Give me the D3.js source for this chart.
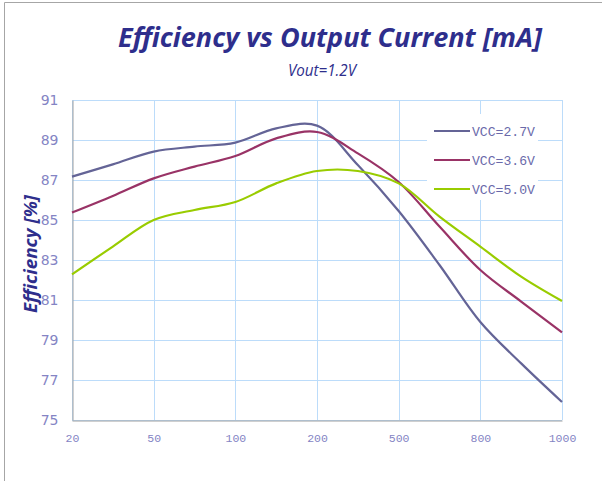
<!DOCTYPE html>
<html>
<head>
<meta charset="utf-8">
<script src="https://cdn.jsdelivr.net/npm/d3@7"></script>
<style>
  body { margin: 0; background: #fff; }
  svg { display: block; }
</style>
</head>
<body>
<svg width="602" height="481"></svg>
<script>
// category labels on the x axis (evenly spaced, not log)
var currents = ["20", "50", "100", "200", "500", "800", "1000"];
// positions where values were read: whole numbers are the labelled categories,
// halves are readings taken midway between them
var readAt = [0, 0.5, 1, 1.5, 2, 2.5, 3, 3.5, 4, 4.5, 5, 5.5, 6];
var vcc27 = [87.17, 87.78, 88.42, 88.67, 88.87, 89.58, 89.72, 87.75, 85.45, 82.75, 79.9, 77.83, 75.9];
var vcc36 = [85.37, 86.2, 87.08, 87.67, 88.2, 89.08, 89.4, 88.33, 86.9, 84.67, 82.5, 80.92, 79.38];
var vcc50 = [82.28, 83.67, 85.0, 85.5, 85.9, 86.83, 87.45, 87.45, 86.83, 85.17, 83.67, 82.17, 80.95];
var seriesNames = ["VCC=2.7V", "VCC=3.6V", "VCC=5.0V"];
var yTicks = [75, 77, 79, 81, 83, 85, 87, 89, 91];

var colors = ["#646496", "#993366", "#99cc00"];
var svg = d3.select("svg");

var plotL = 72, plotR = 562, plotT = 100, plotB = 420;

var x = d3.scaleLinear().domain([0, currents.length - 1]).range([plotL, plotR]);
var y = d3.scaleLinear().domain([75, 91]).range([plotB, plotT]);

// outer frame (only left and top edges show)
svg.append("path")
  .attr("d", "M4.5,481 V2.5 H602")
  .attr("fill", "none")
  .attr("stroke", "#a6a6a6");

// grid
var grid = svg.append("g");
grid.selectAll("line.h")
  .data(yTicks)
  .enter().append("line")
  .attr("x1", plotL).attr("x2", plotR)
  .attr("y1", function(d) { return Math.round(y(d)) + 0.5; })
  .attr("y2", function(d) { return Math.round(y(d)) + 0.5; })
  .attr("stroke", "#bcdcfa");
grid.selectAll("line.v")
  .data(d3.range(currents.length))
  .enter().append("line")
  .attr("y1", plotT).attr("y2", plotB)
  .attr("x1", function(d) { return Math.round(x(d)) + 0.5; })
  .attr("x2", function(d) { return Math.round(x(d)) + 0.5; })
  .attr("stroke", "#bcdcfa");

// y axis
var yAxis = svg.append("g")
  .attr("transform", "translate(" + (plotL + 0.5) + ",0)")
  .call(d3.axisLeft(y).tickValues(yTicks).tickSize(0).tickPadding(14));
yAxis.select(".domain").attr("stroke", "#a0a0a0");
yAxis.selectAll("text")
  .attr("fill", "#8484c4")
  .style("font-family", "'DejaVu Sans'")
  .style("font-size", "14px");

// x axis
var xAxis = svg.append("g")
  .attr("transform", "translate(0," + (plotB + 0.5) + ")")
  .call(d3.axisBottom(x).tickValues(d3.range(currents.length))
    .tickFormat(function(i) { return currents[i]; })
    .tickSize(0).tickPadding(13));
xAxis.select(".domain").attr("stroke", "#a0a0a0");
xAxis.selectAll("text")
  .attr("fill", "#8484c4")
  .style("font-family", "'Liberation Mono'")
  .style("font-size", "11.5px");

// lines
var all = [vcc27, vcc36, vcc50];
var line = d3.line()
  .x(function(d, i) { return x(readAt[i]); })
  .y(function(d) { return y(d); })
  .curve(d3.curveCatmullRom.alpha(0.5));

svg.append("g").selectAll("path")
  .data(all)
  .enter().append("path")
  .attr("d", line)
  .attr("fill", "none")
  .attr("stroke", function(d, i) { return colors[i]; })
  .attr("stroke-width", 2.2);

// legend
var legend = svg.append("g");
legend.append("rect")
  .attr("x", 427).attr("y", 114)
  .attr("width", 111).attr("height", 86)
  .attr("fill", "#fff");
var item = legend.selectAll("g")
  .data(seriesNames)
  .enter().append("g")
  .attr("transform", function(d, i) { return "translate(434," + (131 + i * 29) + ")"; });
item.append("line")
  .attr("x1", 0).attr("x2", 36)
  .attr("stroke", function(d, i) { return colors[i]; })
  .attr("stroke-width", 2.2);
item.append("text")
  .attr("x", 38).attr("y", 4.5)
  .attr("fill", "#6a6aaa")
  .style("font-family", "'Liberation Mono'")
  .style("font-size", "12.5px")
  .attr("textLength", 63)
  .attr("lengthAdjust", "spacingAndGlyphs")
  .text(function(d) { return d; });

// titles
svg.append("text")
  .attr("x", 330).attr("y", 47)
  .attr("text-anchor", "middle")
  .attr("fill", "#2e2e8c")
  .style("font-family", "'Open Sans'")
  .style("font-weight", "bold")
  .style("font-style", "italic")
  .style("font-size", "26px")
  .attr("textLength", 424)
  .attr("lengthAdjust", "spacingAndGlyphs")
  .text("Efficiency vs Output Current [mA]");

svg.append("text")
  .attr("x", 322).attr("y", 76)
  .attr("text-anchor", "middle")
  .attr("fill", "#2e2e8c")
  .style("font-family", "'Open Sans'")
  .style("font-style", "italic")
  .style("font-size", "16px")
  .attr("textLength", 68)
  .attr("lengthAdjust", "spacingAndGlyphs")
  .text("Vout=1.2V");

svg.append("text")
  .attr("transform", "translate(37,254) rotate(-90)")
  .attr("text-anchor", "middle")
  .attr("fill", "#2e2e8c")
  .style("font-family", "'Open Sans'")
  .style("font-weight", "bold")
  .style("font-style", "italic")
  .style("font-size", "18px")
  .attr("textLength", 118)
  .attr("lengthAdjust", "spacingAndGlyphs")
  .text("Efficiency [%]");
</script>
</body>
</html>
